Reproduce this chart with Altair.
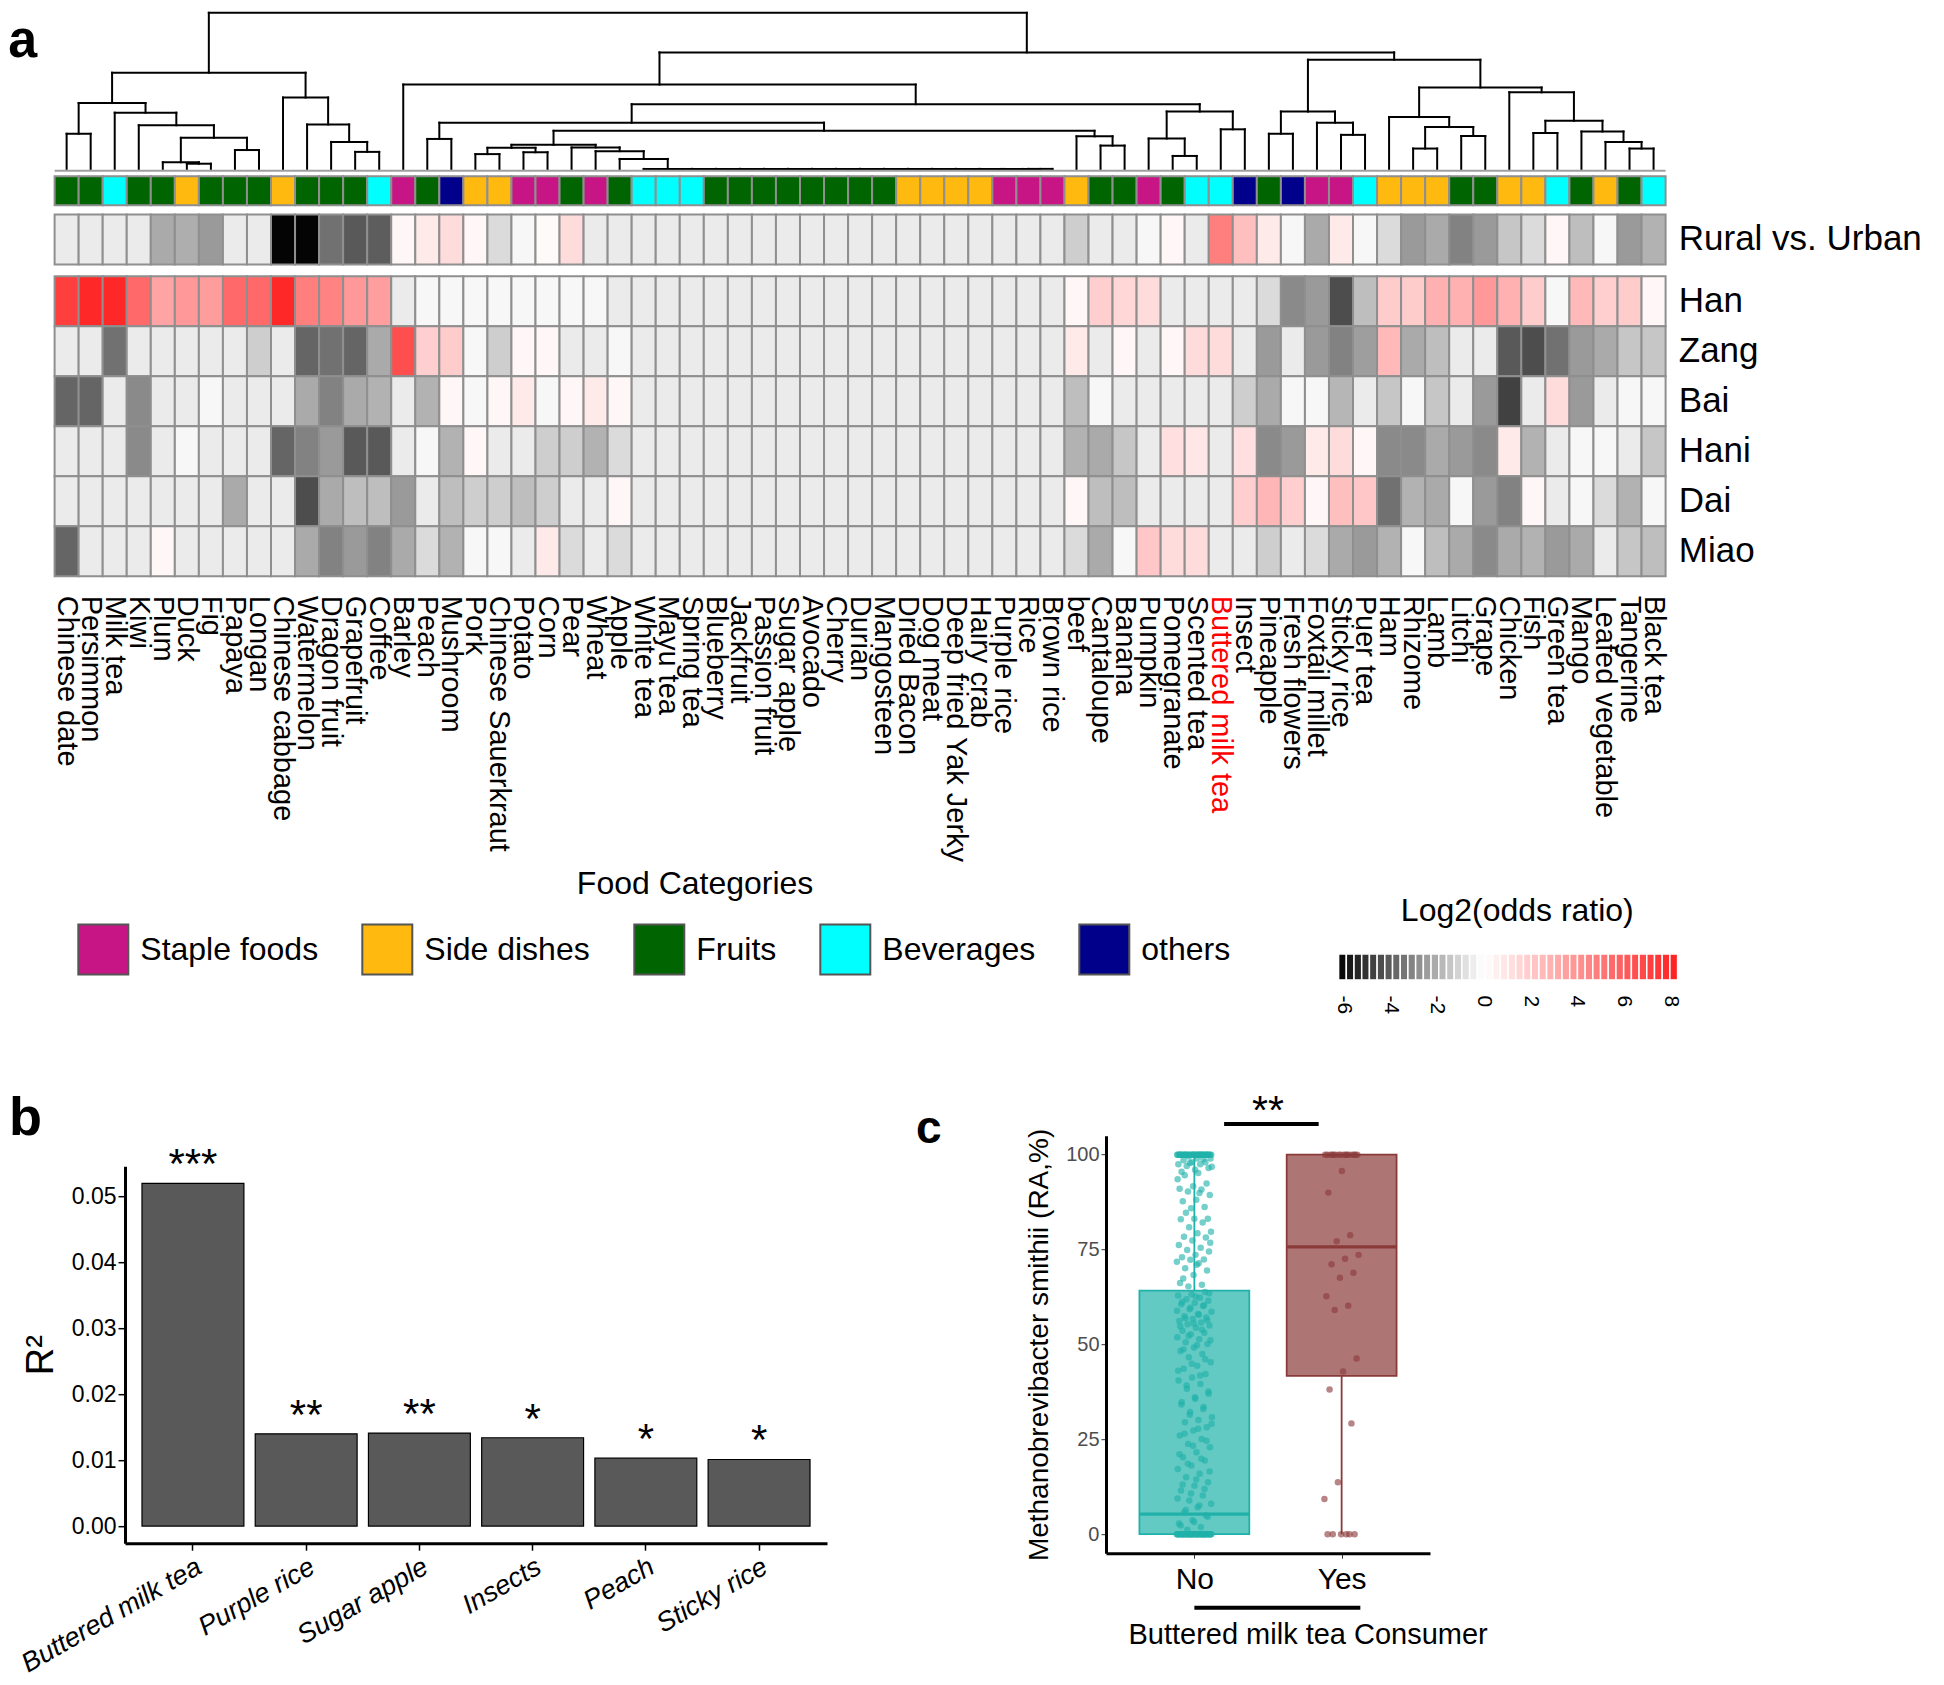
import altair as alt
import numpy as np
import pandas as pd

FONT = "Liberation Sans"

# ---------------- panel a : data ----------------
foods = ["Chinese date", "Persimmon", "Milk tea", "Kiwi", "Plum", "Duck", "Fig", "Papaya", "Longan",
         "Chinese cabbage", "Watermelon", "Dragon fruit", "Grapefruit", "Coffee", "Barley", "Peach",
         "Mushroom", "Pork", "Chinese Sauerkraut", "Potato", "Corn", "Pear", "Wheat", "Apple",
         "White tea", "Mayu tea", "Spring tea", "Blueberry", "Jackfruit", "Passion fruit", "Sugar apple",
         "Avocado", "Cherry", "Durian", "Mangosteen", "Dried Bacon", "Dog meat", "Deep fried Yak Jerky",
         "Hairy crab", "Purple rice", "Rice", "Brown rice", "beef", "Cantaloupe", "Banana", "Pumpkin",
         "Pomegranate", "Scented tea", "Buttered milk tea", "Insect", "Pineapple", "Fresh flowers",
         "Foxtail millet", "Sticky rice", "Puer tea", "Ham", "Rhizome", "Lamb", "Litchi", "Grape",
         "Chicken", "Fish", "Green tea", "Mango", "Leafed vegetable", "Tangerine", "Black tea"]

FR, SD, ST, BV, OT = "Fruits", "Side dishes", "Staple foods", "Beverages", "others"
food_category = [FR, FR, BV, FR, FR, SD, FR, FR, FR, SD,
                 FR, FR, FR, BV, ST, FR, OT, SD, SD, ST,
                 ST, FR, ST, FR, BV, BV, BV, FR, FR, FR,
                 FR, FR, FR, FR, FR, SD, SD, SD, SD, ST,
                 ST, ST, SD, FR, FR, ST, FR, BV, BV, OT,
                 FR, OT, ST, ST, BV, SD, SD, SD, FR, FR,
                 SD, SD, BV, FR, SD, FR, BV]
category_names = ["Staple foods", "Side dishes", "Fruits", "Beverages", "others"]
category_colors = ["#C71585", "#FFB90F", "#006400", "#00FFFF", "#00008B"]

groups = ["Han", "Zang", "Bai", "Hani", "Dai", "Miao"]

rural_vs_urban = [-0.5, -0.5, -0.5, -0.5, -2.1, -2.0, -2.5, -0.5, -0.5, -6.2,
                  -6.2, -3.5, -4.1, -4.0, 0.3, 0.8, 1.3, 0.3, -0.9, -0.2,
                  0.2, 1.3, -0.5, -0.5,
                  -0.5, -0.5, -0.5, -0.5, -0.5, -0.5, -0.5, -0.5, -0.5, -0.5, -0.5, -0.5, -0.5, -0.5, -0.5, -0.5, -0.5, -0.5,
                  -1.2, -0.5, -0.5,
                  -0.2, 0.3, -0.5, 4.8, 2.4, 0.8, -0.2, -2.1, 0.8, -0.2,
                  -0.9, -2.5, -2.1, -3.1, -2.5, -1.4, -0.9, 0.3, -1.6, -0.2,
                  -2.5, -1.9]
han = [7.2, 8.0, 8.0, 5.6, 3.4, 3.8, 3.7, 5.6, 5.6, 8.0,
       4.8, 4.6, 3.8, 3.6, -0.5, -0.2, -0.2, -0.2, -0.2, -0.2,
       -0.2, -0.2, -0.2, -0.5,
       -0.5, -0.5, -0.5, -0.5, -0.5, -0.5, -0.5, -0.5, -0.5, -0.5, -0.5, -0.5, -0.5, -0.5, -0.5, -0.5, -0.5, -0.5,
       0.3, 1.8, 1.5,
       1.3, -0.5, -0.5, -0.5, -0.5, -0.9, -2.9, -2.5, -4.4, -1.6,
       1.9, 1.9, 2.9, 2.9, 3.8, 2.9, 1.9, -0.2, 2.6, 1.8,
       1.9, 0.3]
zang = [-0.5, -0.5, -3.5, -0.5, -0.5, -0.5, -0.5, -0.5, -1.2, -0.5,
        -3.8, -3.5, -3.8, -2.1, 6.6, 1.8, 1.9, -0.2, -1.2, 0.3,
        0.3, -0.5, -0.5, -0.2,
        -0.5, -0.5, -0.5, -0.5, -0.5, -0.5, -0.5, -0.5, -0.5, -0.5, -0.5, -0.5, -0.5, -0.5, -0.5, -0.5, -0.5, -0.5,
        0.8, -0.5, 0.3,
        -0.5, 0.3, 1.3, 1.3, -0.5, -2.5, -0.5, -2.5, -3.1, -2.4,
        2.6, -2.1, -1.6, -0.5, -0.5, -4.1, -4.4, -3.5, -2.5, -2.1,
        -1.4, -1.4]
bai = [-3.8, -3.8, -0.5, -2.9, -0.5, -0.5, -0.2, -0.5, -0.5, -0.5,
       -2.1, -3.1, -2.1, -1.9, -0.5, -1.9, 0.3, -0.2, 0.3, 0.8,
       -0.2, 0.3, 0.8, 0.3,
       -0.5, -0.5, -0.5, -0.5, -0.5, -0.5, -0.5, -0.5, -0.5, -0.5, -0.5, -0.5, -0.5, -0.5, -0.5, -0.5, -0.5, -0.5,
       -1.6, -0.2, -0.5,
       -0.5, -0.5, -0.5, -0.5, -1.2, -2.1, -0.2, -0.2, -1.8, -0.5,
       -1.4, -0.2, -1.4, -0.5, -2.5, -4.7, -0.5, 1.3, -2.5, -0.5,
       -0.2, -0.2]
hani = [-0.5, -0.5, -0.5, -2.9, -0.5, -0.2, -0.5, -0.5, -0.5, -3.8,
        -3.1, -2.5, -4.1, -4.1, -0.5, -0.2, -1.9, 0.3, -0.5, -0.5,
        -1.2, -1.2, -1.9, -0.9,
        -0.5, -0.5, -0.5, -0.5, -0.5, -0.5, -0.5, -0.5, -0.5, -0.5, -0.5, -0.5, -0.5, -0.5, -0.5, -0.5, -0.5, -0.5,
        -1.9, -2.1, -1.4,
        -0.5, 1.2, 0.9, -0.5, 1.2, -2.9, -2.5, 0.8, 1.3, 0.3,
        -2.9, -2.9, -2.1, -2.5, -2.9, 0.8, -1.9, -0.5, -0.2, -0.2,
        -0.5, -1.4]
dai = [-0.5, -0.5, -0.5, -0.5, -0.5, -0.5, -0.5, -2.1, -0.5, -0.5,
       -4.4, -2.1, -1.6, -1.6, -2.5, -0.5, -1.6, -1.2, -1.2, -1.6,
       -1.2, -0.5, -0.5, 0.3,
       -0.5, -0.5, -0.5, -0.5, -0.5, -0.5, -0.5, -0.5, -0.5, -0.5, -0.5, -0.5, -0.5, -0.5, -0.5, -0.5, -0.5, -0.5,
       0.3, -1.6, -1.6,
       -0.5, -0.5, -0.5, -0.5, 1.8, 2.7, 1.8, 0.3, 2.4, 2.1,
       -3.5, -1.9, -2.1, -0.2, -2.5, -3.1, 0.3, -0.5, -0.2, -0.9,
       -1.9, -0.2]
miao = [-3.8, -0.5, -0.5, -0.5, 0.3, -0.5, -0.5, -0.5, -0.5, -0.5,
        -2.1, -3.1, -2.5, -3.1, -2.1, -0.9, -1.9, -0.2, -0.2, -0.5,
        0.8, -0.9, -0.5, -0.9,
        -0.5, -0.5, -0.5, -0.5, -0.5, -0.5, -0.5, -0.5, -0.5, -0.5, -0.5, -0.5, -0.5, -0.5, -0.5, -0.5, -0.5, -0.5,
        -0.9, -2.1, -0.2,
        2.1, 1.3, 1.3, -0.5, -0.5, -1.2, -0.5, -0.9, -2.1, -2.5,
        -1.9, -0.2, -1.6, -2.1, -2.9, -2.1, -1.9, -2.5, -2.1, -0.5,
        -1.4, -1.6]

# dendrogram merges: (node, left child, right child, merge height)
dendro_merges = [
    ("n1", "Chinese date", "Persimmon", 95), ("n2", "Duck", "Fig", 14), ("n3", "Plum", "n2", 18),
    ("n4", "Papaya", "Longan", 51), ("n5", "n3", "n4", 84), ("n6", "Kiwi", "n5", 118),
    ("n7", "Milk tea", "n6", 152), ("n8", "n1", "n7", 178), ("n9", "Grapefruit", "Coffee", 46),
    ("n10", "Dragon fruit", "n9", 73), ("n11", "Watermelon", "n10", 120),
    ("n12", "Chinese cabbage", "n11", 193), ("n13", "n8", "n12", 260),
    ("n14", "Peach", "Mushroom", 81), ("n15", "Pork", "Chinese Sauerkraut", 40),
    ("n16", "Potato", "Corn", 45), ("n17", "n15", "n16", 57),
    ("z16", "Rice", "Brown rice", 0), ("z15", "Purple rice", "z16", 0), ("z14", "Hairy crab", "z15", 0),
    ("z13", "Deep fried Yak Jerky", "z14", 0), ("z12", "Dog meat", "z13", 0), ("z11", "Dried Bacon", "z12", 0),
    ("z10", "Mangosteen", "z11", 0), ("z9", "Durian", "z10", 0), ("z8", "Cherry", "z9", 0),
    ("z7", "Avocado", "z8", 0), ("z6", "Sugar apple", "z7", 0), ("z5", "Passion fruit", "z6", 0),
    ("z4", "Jackfruit", "z5", 0), ("z3", "Blueberry", "z4", 0), ("z2", "Spring tea", "z3", 0),
    ("z1", "Mayu tea", "z2", 0), ("z0", "White tea", "z1", 0),
    ("n18", "Apple", "z0", 27), ("n19", "Wheat", "n18", 48), ("n20", "Pear", "n19", 58),
    ("n21", "n17", "n20", 65), ("n22", "Cantaloupe", "Banana", 63), ("n23", "beef", "n22", 88),
    ("n24", "n21", "n23", 103), ("n25", "n14", "n24", 125), ("n26", "Pomegranate", "Scented tea", 35),
    ("n27", "Pumpkin", "n26", 82), ("n28", "Buttered milk tea", "Insect", 107), ("n29", "n27", "n28", 155),
    ("n30", "n25", "n29", 175), ("n31", "Barley", "n30", 228), ("n32", "Pineapple", "Fresh flowers", 95),
    ("n33", "Sticky rice", "Puer tea", 92), ("n34", "Foxtail millet", "n33", 125), ("n35", "n32", "n34", 155),
    ("n36", "Rhizome", "Lamb", 55), ("n37", "Litchi", "Grape", 89), ("n38", "n36", "n37", 113),
    ("n39", "Ham", "n38", 140), ("n40", "Fish", "Green tea", 97), ("n41", "Tangerine", "Black tea", 55),
    ("n42", "Leafed vegetable", "n41", 73), ("n43", "Mango", "n42", 101), ("n44", "n40", "n43", 130),
    ("n45", "Chicken", "n44", 207), ("n46", "n39", "n45", 220), ("n47", "n35", "n46", 295),
    ("n48", "n31", "n47", 315), ("root", "n13", "n48", 422),
]
dendro_max = 422

# ---------------- panel b : data ----------------
b_foods = ["Buttered milk tea", "Purple rice", "Sugar apple", "Insects", "Peach", "Sticky rice"]
b_r2 = [0.0520, 0.0140, 0.0141, 0.0134, 0.0103, 0.0101]
b_sig = ["***", "**", "**", "*", "*", "*"]

# ---------------- panel c : data ----------------
c_groups = ["No", "Yes"]
c_pos = [1, 2]
c_q1 = [0.0, 41.7]
c_median = [5.3, 75.7]
c_q3 = [64.2, 100.0]
c_low = [0.0, 0.0]
c_high = [100.0, 100.0]
c_no = [100, 100, 100, 100, 100, 100, 100, 100, 100, 100, 100, 100, 100, 100, 100,
        100, 100, 100, 100, 100, 100, 100, 100, 100, 100, 100, 100, 100, 100, 100,
        100, 100, 100, 100, 100, 100, 100, 100, 100, 100,
        99.5, 99, 99, 98.5, 98, 98, 97.5, 97.5, 97, 96.5, 96, 95.5, 98.8, 97.8, 96.8, 95.2,
        94.6, 92.4, 91.7, 91.0, 90.8, 90.3, 89.4, 88.1, 87.7, 86.2, 85.9, 93.5, 89.9, 84.7,
        83.1, 83.1, 83.0, 82.1, 80.9,
        79.7, 79.3, 78.4, 78.2, 77.4, 76.2, 75.5, 74.9, 74.5, 73.6, 73.0, 72.4, 72.3, 71.8, 71.4,
        70.1, 69.5, 68.3, 66.2, 65.7, 65.3, 76.8, 71.0, 67.4,
        63.8, 63.2, 62.9, 62.3, 61.9, 61.5, 61.0, 60.6, 60.1, 59.3, 58.6, 58.0, 57.4, 57.1, 56.7,
        56.2, 55.8, 55.3, 55.0, 54.4, 53.6, 53.1, 52.7, 51.9, 51.4, 50.6, 50.1, 49.2, 48.3, 47.5,
        46.6, 45.3, 44.4, 43.6, 42.2, 41.3, 40.5, 39.6, 38.3, 37.0, 35.7, 34.8, 33.5, 32.2, 30.8,
        30.1, 29.5, 28.2, 27.3, 26.0, 25.1, 23.8, 22.9, 21.6, 20.3, 19.4, 18.1, 17.2, 15.9, 15.0,
        13.7, 12.8, 11.5, 10.2, 8.9, 8.0, 7.1, 5.8, 5.0, 3.7, 2.8, 1.9, 1.2,
        63.5, 62.6, 61.2, 60.3, 59.7, 58.9, 57.8, 56.9, 56.4, 55.5, 54.8, 53.9, 52.3, 51.1, 49.8,
        48.7, 46.1, 44.9, 43.1, 41.8, 39.2, 37.6, 36.1, 34.2, 33.0, 31.5, 29.1, 27.8, 26.5, 24.6,
        23.3, 21.1, 19.9, 18.6, 16.5, 14.4, 13.1, 11.9, 10.7, 9.4, 7.6, 6.4, 4.6, 3.2, 2.3,
        0, 0, 0, 0, 0, 0, 0, 0, 0, 0, 0, 0, 0, 0, 0, 0, 0, 0, 0, 0,
        0, 0, 0, 0, 0, 0, 0, 0, 0, 0, 0, 0, 0, 0, 0, 0, 0, 0, 0, 0,
        0, 0, 0, 0, 0, 0, 0, 0, 0, 0]
c_yes = [100, 100, 100, 100, 100, 100, 100, 100, 100, 100, 100, 100, 100, 100, 100, 100,
         95.7, 90.0, 78.8, 77.2, 73.6, 72.6, 71.1, 68.9, 67.6, 62.7, 60.2, 59.1,
         46.3, 42.9, 38.1, 29.2, 13.7, 9.3, 0, 0, 0, 0, 0, 0]
c_sig_bar = {"x0": [1.202], "x1": [1.844], "y": [108.1], "xt": [1.5], "label": ["**"]}
c_under_bar = {"x0": [1.0], "x1": [2.127], "y": [-19.4]}

for row in [rural_vs_urban, han, zang, bai, hani, dai, miao, food_category]:
    assert len(row) == len(foods)

# ---------------- panel a : frames ----------------
heat_vals = {"Han": han, "Zang": zang, "Bai": bai, "Hani": hani, "Dai": dai, "Miao": miao}
heat_df = pd.DataFrame([{"food": f, "group": g, "v": vals[i]}
                        for g, vals in heat_vals.items() for i, f in enumerate(foods)])
rural_df = pd.DataFrame({"food": foods, "group": "Rural vs. Urban", "v": rural_vs_urban})
cat_df = pd.DataFrame({"food": foods, "row": "cat", "category": food_category})

pos = {f: i + 0.5 for i, f in enumerate(foods)}
hgt = {f: 0.0 for f in foods}
segs = []
for name, a, b, h in dendro_merges:
    xa, xb = pos[a], pos[b]
    segs.append((xa, xb, h, h))
    segs.append((xa, xa, hgt[a], h))
    segs.append((xb, xb, hgt[b], h))
    pos[name] = (xa + xb) / 2.0
    hgt[name] = h
seg_df = pd.DataFrame(segs, columns=["x1", "x2", "y1", "y2"])
base_df = pd.DataFrame({"x1": [0], "x2": [len(foods)], "y1": [-5], "y2": [-5]})

legend_edges = np.linspace(-6.21, 8.31, 45)
stripe_df = pd.DataFrame({"s0": legend_edges[:-1], "s1": legend_edges[1:],
                          "v": (legend_edges[:-1] + legend_edges[1:]) / 2, "y0": 0, "y1": 1})

# layout of panel a (its origin is shared with panel b's plot origin)
SH = -70.4                 # heatmap left edge relative to the shared origin
HEAT_W = 1611.0
W_A, H_A = SH + HEAT_W, 300
GRID = "#8f8f8f"
food_scale = alt.Scale(domain=foods, range=[SH, SH + HEAT_W], paddingInner=0, paddingOuter=0)
cscale = alt.Scale(domain=[-6.3, 0, 8.3], range=["#000000", "#ffffff", "#ff2020"],
                   interpolate="rgb", clamp=True)
dx_scale = alt.Scale(domain=[0, len(foods)], range=[SH, SH + HEAT_W], nice=False, zero=False)
dy_scale = alt.Scale(domain=[0, dendro_max], range=[-107.3, -263.4], nice=False, zero=False)

dendro = alt.Chart(seg_df).mark_rule(color="black", strokeWidth=2, strokeCap="square").encode(
    x=alt.X("x1:Q", scale=dx_scale, axis=None), x2="x2:Q",
    y=alt.Y("y1:Q", scale=dy_scale, axis=None), y2="y2:Q")
base_rule = alt.Chart(base_df).mark_rule(color="#a0a0a0", strokeWidth=2).encode(
    x=alt.X("x1:Q", scale=dx_scale, axis=None), x2="x2:Q",
    y=alt.Y("y1:Q", scale=dy_scale, axis=None), y2="y2:Q")

cat_bar = alt.Chart(cat_df).mark_rect(stroke=GRID, strokeWidth=2).encode(
    x=alt.X("food:N", scale=food_scale, axis=None),
    y=alt.Y("row:N", scale=alt.Scale(domain=["cat"], range=[-99.9, -71.0], paddingInner=0, paddingOuter=0),
            axis=None),
    color=alt.Color("category:N", scale=alt.Scale(domain=category_names, range=category_colors),
                    legend=alt.Legend(orient="none", legendX=SH + 22.7, legendY=647.4, direction="horizontal",
                                      columns=5, title=None, symbolType="square", symbolSize=2500,
                                      symbolStrokeColor="#555555", symbolStrokeWidth=2, symbolOpacity=1,
                                      labelFontSize=32, labelOffset=11, columnPadding=40, labelLimit=400,
                                      labelColor="#000000", padding=0, labelFont=FONT)))

rural = alt.Chart(rural_df).mark_rect(stroke=GRID, strokeWidth=2).encode(
    x=alt.X("food:N", scale=food_scale, axis=None),
    y=alt.Y("group:N", scale=alt.Scale(domain=["Rural vs. Urban"], range=[-61.8, -11.8],
                                       paddingInner=0, paddingOuter=0),
            axis=alt.Axis(orient="right", ticks=False, tickSize=0, domain=False, labelFontSize=35,
                          labelPadding=12.7, labelColor="#000000", title=None, labelLimit=400)),
    color=alt.Color("v:Q", scale=cscale, legend=None))

heat = alt.Chart(heat_df).mark_rect(stroke=GRID, strokeWidth=2).encode(
    x=alt.X("food:N", scale=food_scale,
            axis=alt.Axis(orient="bottom", labelAngle=90, labelAlign="left", labelBaseline="middle",
                          labelFontSize=29, labelPadding=19, ticks=False, tickSize=0, domain=False,
                          labelLimit=500, labelOverlap=False,
                          labelColor=alt.ExprRef(expr="datum.value == 'Buttered milk tea' ? '#ff0000' : '#000000'"),
                          title="Food Categories", titleFontSize=32, titleFontWeight="normal",
                          titleX=SH + 640, titleY=307, titleBaseline="middle", titleAlign="center")),
    y=alt.Y("group:N", scale=alt.Scale(domain=groups, paddingInner=0, paddingOuter=0),
            axis=alt.Axis(orient="right", ticks=False, tickSize=0, domain=False, labelFontSize=35,
                          labelPadding=12.7, labelColor="#000000", title=None)),
    color=alt.Color("v:Q", scale=cscale, legend=None))

grad = alt.Chart(stripe_df).mark_rect(stroke="white", strokeWidth=1.5).encode(
    x=alt.X("s0:Q", scale=alt.Scale(domain=[-6.21, 8.31], range=[SH + 1284.0, SH + 1623.0],
                                    nice=False, zero=False),
            axis=alt.Axis(orient="bottom", offset=403.7, values=[-6, -4, -2, 0, 2, 4, 6, 8],
                          labelExpr="datum.value < 0 ? '-' + abs(datum.value) : '' + datum.value",
                          labelAngle=90, labelAlign="left", labelBaseline="middle", labelFontSize=21,
                          labelPadding=15, ticks=False, tickSize=0, domain=False, labelFlush=False,
                          labelOverlap=False, labelColor="#000000", grid=False,
                          title="Log2(odds ratio)", titleFontSize=32, titleFontWeight="normal",
                          titleX=SH + 1462.2, titleY=-69.3, titleBaseline="middle", titleAlign="center",
                          titleAngle=0)),
    x2="s1:Q",
    y=alt.Y("y0:Q", scale=alt.Scale(domain=[0, 1], range=[703.7, 677.7], nice=False, zero=False), axis=None),
    y2="y1:Q",
    color=alt.Color("v:Q", scale=cscale, legend=None))

# panel letter, placed so that its whole text box stays inside the page
a_lab = alt.Chart(pd.DataFrame({"t": ["a"]})).mark_text(
    fontSize=52, fontWeight="bold", align="left", baseline="alphabetic", color="black").encode(
    text="t:N", x=alt.value(SH - 46.3), y=alt.value(-219.0))

panel_a = alt.layer(dendro, base_rule, cat_bar, rural, heat, grad, a_lab).resolve_scale(
    x="independent", y="independent", color="independent").resolve_axis(
    x="independent", y="independent").resolve_legend(color="independent").properties(width=W_A, height=H_A)

# ---------------- panel b ----------------
b_df = pd.DataFrame({"food": b_foods, "r2": b_r2, "sig": b_sig})
b_xaxis = alt.Axis(labelAngle=-30, labelAlign="right", labelBaseline="top", labelFontSize=27,
                   labelFontStyle="italic", labelColor="#000000", labelPadding=3, tickSize=7,
                   tickColor="#000000", tickWidth=1.5, domainWidth=3, domainColor="#000000",
                   title=None, labelLimit=500)
b_yaxis = alt.Axis(values=[0, 0.01, 0.02, 0.03, 0.04, 0.05], format=".2f", labelFontSize=23,
                   labelColor="#000000", tickSize=7, tickColor="#000000", tickWidth=1.5, labelPadding=2,
                   domainWidth=3, domainColor="#000000", grid=False, title="R²", titleFontSize=38,
                   titleFontWeight="normal", titlePadding=11, titleColor="#000000")
bx = alt.X("food:N", sort=b_foods, scale=alt.Scale(domain=b_foods, paddingInner=0.1, paddingOuter=0.15),
           axis=b_xaxis)
by = alt.Y("r2:Q", scale=alt.Scale(domain=[-0.0026, 0.0546], nice=False, zero=False), axis=b_yaxis)
bars = alt.Chart(b_df).mark_bar(color="#595959", stroke="#000000", strokeWidth=1.2).encode(
    x=bx, y=by, y2=alt.datum(0))
stars = alt.Chart(b_df).mark_text(fontSize=42, baseline="alphabetic", dy=-5, color="#000000").encode(
    x=bx, y=by, text="sig:N")
b_lab = alt.Chart(pd.DataFrame({"t": ["b"]})).mark_text(
    fontSize=54, fontWeight="bold", align="left", baseline="alphabetic", color="black").encode(
    text="t:N", x=alt.value(-116.0), y=alt.value(-31.0))
panel_b = alt.layer(bars, stars, b_lab).properties(width=702, height=377)

# ---------------- panel c ----------------
C_UP = -30.5               # plot top of c relative to the row's shared origin
C_H = 417.5 + C_UP
pts_df = pd.DataFrame({"cons": ["No"] * len(c_no) + ["Yes"] * len(c_yes),
                       "grp": [1] * len(c_no) + [2] * len(c_yes),
                       "v": c_no + c_yes})
box_df = pd.DataFrame({"cons": c_groups, "grp": c_pos, "q1": c_q1, "med": c_median, "q3": c_q3,
                       "lo": c_low, "hi": c_high})
sig_df = pd.DataFrame(c_sig_bar)
under_df = pd.DataFrame(c_under_bar)

c_xscale = alt.Scale(domain=[0.4, 2.6], nice=False, zero=False)
c_yscale = alt.Scale(domain=[-5, 105], range=[C_H, C_UP], nice=False, zero=False)
c_xaxis = alt.Axis(values=[1, 2], labelExpr="datum.value == 1 ? 'No' : 'Yes'", labelFontSize=30,
                   labelColor="#000000", labelPadding=6, tickSize=5, tickColor="#333333", domainWidth=3,
                   domainColor="#000000", grid=False, labelFlush=False,
                   title="Buttered milk tea Consumer", titleFontSize=29, titleFontWeight="normal",
                   titleX=201.6, titleY=81, titleBaseline="middle", titleAlign="center", titleColor="#000000")
c_yaxis = alt.Axis(values=[0, 25, 50, 75, 100], labelFontSize=20, labelColor="#4d4d4d", tickSize=5,
                   tickColor="#333333", labelPadding=2, domainWidth=3, domainColor="#000000", grid=False,
                   title="Methanobrevibacter smithii (RA,%)", titleFontSize=28, titleFontWeight="normal",
                   titlePadding=12, titleColor="#000000")
c_col = alt.Scale(domain=c_groups, range=["#20B2AA", "#8B3A3A"])

box = alt.Chart(box_df).transform_calculate(x0="datum.grp - 0.373", x1="datum.grp + 0.373").mark_rect(
    fillOpacity=0.7, strokeWidth=1.8).encode(
    x=alt.X("x0:Q", scale=c_xscale, axis=c_xaxis), x2="x1:Q",
    y=alt.Y("q1:Q", scale=c_yscale, axis=c_yaxis), y2="q3:Q",
    fill=alt.Fill("cons:N", scale=c_col, legend=None),
    stroke=alt.Stroke("cons:N", scale=c_col, legend=None))
whisk_hi = alt.Chart(box_df).mark_rule(strokeWidth=1.8).encode(
    x=alt.X("grp:Q", scale=c_xscale, axis=c_xaxis),
    y=alt.Y("q3:Q", scale=c_yscale, axis=c_yaxis), y2="hi:Q",
    color=alt.Color("cons:N", scale=c_col, legend=None))
whisk_lo = alt.Chart(box_df).mark_rule(strokeWidth=1.8).encode(
    x=alt.X("grp:Q", scale=c_xscale, axis=c_xaxis),
    y=alt.Y("lo:Q", scale=c_yscale, axis=c_yaxis), y2="q1:Q",
    color=alt.Color("cons:N", scale=c_col, legend=None))
med = alt.Chart(box_df).transform_calculate(x0="datum.grp - 0.373", x1="datum.grp + 0.373").mark_rule(
    strokeWidth=3.2).encode(
    x=alt.X("x0:Q", scale=c_xscale, axis=c_xaxis), x2="x1:Q",
    y=alt.Y("med:Q", scale=c_yscale, axis=c_yaxis),
    color=alt.Color("cons:N", scale=c_col, legend=None))
pts = alt.Chart(pts_df).transform_window(idx="row_number()", groupby=["cons"]).transform_calculate(
    xj="datum.grp + ((datum.idx * 0.6180339887) % 1 - 0.5) * 0.24").mark_circle(size=42, opacity=0.62).encode(
    x=alt.X("xj:Q", scale=c_xscale, axis=c_xaxis),
    y=alt.Y("v:Q", scale=c_yscale, axis=c_yaxis),
    color=alt.Color("cons:N", scale=c_col, legend=None))
sig_line = alt.Chart(sig_df).mark_rule(color="#000000", strokeWidth=4).encode(
    x=alt.X("x0:Q", scale=c_xscale, axis=c_xaxis), x2="x1:Q",
    y=alt.Y("y:Q", scale=c_yscale, axis=c_yaxis))
sig_text = alt.Chart(sig_df).mark_text(fontSize=41, baseline="alphabetic", color="#000000").encode(
    x=alt.X("xt:Q", scale=c_xscale, axis=c_xaxis),
    y=alt.Y("y:Q", scale=c_yscale, axis=c_yaxis), text="label:N")
under_line = alt.Chart(under_df).mark_rule(color="#000000", strokeWidth=4).encode(
    x=alt.X("x0:Q", scale=c_xscale, axis=c_xaxis), x2="x1:Q",
    y=alt.Y("y:Q", scale=c_yscale, axis=c_yaxis))
c_lab = alt.Chart(pd.DataFrame({"t": ["c"]})).mark_text(
    fontSize=46, fontWeight="bold", align="left", baseline="alphabetic", color="black").encode(
    text="t:N", x=alt.value(-190.0), y=alt.value(7.0 + C_UP))
panel_c = alt.layer(box, whisk_hi, whisk_lo, med, pts, sig_line, sig_text, under_line, c_lab).properties(
    width=324, height=C_H)

bottom = alt.hconcat(panel_b, panel_c, spacing=89)

chart = alt.vconcat(panel_a, bottom, spacing=76).properties(
    padding={"left": 0, "top": 3.2, "right": 0, "bottom": 0}
).configure(font=FONT).configure_view(stroke=None).configure_axis(
    labelFont=FONT, titleFont=FONT).configure_legend(labelFont=FONT, titleFont=FONT)

chart.save("out.html", embed_options={"renderer": "svg", "actions": False})
